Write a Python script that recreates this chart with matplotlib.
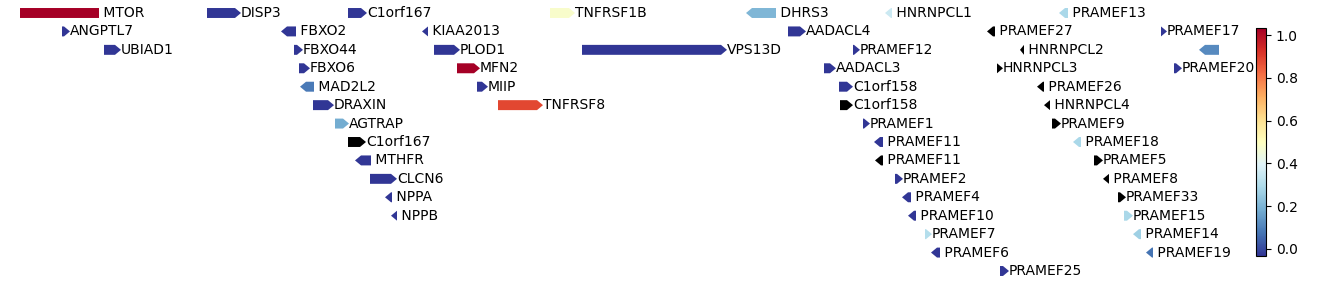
import numpy as np
import matplotlib
matplotlib.use("Agg")
import matplotlib.pyplot as plt
from matplotlib.patches import Polygon
from matplotlib.colors import Normalize

# genes: kb offset from region start, strand, track row, colour value (nan = no value)
names = ["MTOR", "DISP3", "C1orf167", "TNFRSF1B", "DHRS3", "HNRNPCL1", "PRAMEF13",
         "ANGPTL7", "FBXO2", "KIAA2013", "AADACL4", "PRAMEF27", "PRAMEF17",
         "UBIAD1", "FBXO44", "PLOD1", "VPS13D", "PRAMEF12", "HNRNPCL2", "",
         "FBXO6", "MFN2", "AADACL3", "HNRNPCL3", "PRAMEF20",
         "MAD2L2", "MIIP", "C1orf158", "PRAMEF26",
         "DRAXIN", "TNFRSF8", "C1orf158", "HNRNPCL4",
         "AGTRAP", "PRAMEF1", "PRAMEF9",
         "C1orf167", "PRAMEF11", "PRAMEF18",
         "MTHFR", "PRAMEF11", "PRAMEF5",
         "CLCN6", "PRAMEF2", "PRAMEF8",
         "NPPA", "PRAMEF4", "PRAMEF33",
         "NPPB", "PRAMEF10", "PRAMEF15",
         "PRAMEF7", "PRAMEF14",
         "PRAMEF6", "PRAMEF19",
         "PRAMEF25"]
starts = [-16, 374, 656, 1060, 1452, 1730, 2078,
          84, 522, 804, 1536, 1934, 2282,
          168, 548, 828, 1124, 1666, 2000, 2358,
          558, 874, 1608, 1954, 2308,
          560, 914, 1638, 2034,
          586, 956, 1640, 2048,
          630, 1686, 2064,
          656, 1708, 2106,
          670, 1710, 2148,
          700, 1750, 2166,
          730, 1764, 2196,
          742, 1776, 2208,
          1810, 2226,
          1822, 2252,
          1960]
ends = [158, 442, 694, 1110, 1512, 1744, 2096,
        100, 552, 816, 1572, 1950, 2294,
        202, 566, 880, 1414, 1680, 2008, 2398,
        580, 920, 1632, 1966, 2324,
        588, 936, 1666, 2048,
        628, 1046, 1666, 2060,
        658, 1700, 2082,
        692, 1726, 2122,
        702, 1726, 2166,
        754, 1766, 2178,
        744, 1782, 2212,
        754, 1792, 2226,
        1824, 2242,
        1840, 2266,
        1978]
strands = ["-", "+", "+", "+", "-", "-", "-",
           "+", "-", "-", "+", "-", "+",
           "+", "+", "+", "+", "+", "-", "-",
           "+", "+", "+", "+", "+",
           "-", "+", "+", "-",
           "+", "+", "+", "-",
           "+", "+", "+",
           "+", "-", "-",
           "-", "-", "+",
           "+", "+", "-",
           "-", "-", "+",
           "-", "-", "+",
           "+", "-",
           "-", "-",
           "+"]
rows = [0] * 7 + [1] * 6 + [2] * 7 + [3] * 5 + [4] * 4 + [5] * 4 + [6] * 3 + [7] * 3 \
    + [8] * 3 + [9] * 3 + [10] * 3 + [11] * 3 + [12] * 2 + [13] * 2 + [14]
nan = np.nan
values = [1.0, 0.0, 0.0, 0.48, 0.22, 0.36, 0.3,
          0.0, 0.0, 0.0, 0.0, nan, 0.0,
          0.0, 0.0, 0.0, 0.0, 0.0, nan, 0.14,
          0.0, 1.0, 0.0, nan, 0.0,
          0.11, 0.0, 0.0, nan,
          0.0, 0.86, nan, nan,
          0.2, 0.0, nan,
          nan, 0.0, 0.3,
          0.0, nan, nan,
          0.0, 0.0, nan,
          0.0, 0.0, nan,
          0.0, 0.0, 0.3,
          0.32, 0.28,
          0.0, 0.1,
          0.0]

cmap = plt.get_cmap("RdYlBu_r").with_extremes(bad="black")
norm = Normalize(vmin=0, vmax=1)

fig = plt.figure(figsize=(13.38, 2.85), dpi=100)
ax = fig.add_axes([20 / 1338, 0, 1199 / 1338, 1])
ax.set_xlim(0, 2398)
ax.set_ylim(14.76, -0.705)
ax.axis("off")

h = 0.27   # half height of arrow
hl = 12    # head length (kb)
for name, s, e, st, r, v in zip(names, starts, ends, strands, rows, values):
    L = e - s
    k = min(hl, L)
    if st == "+":
        pts = [(s, r - h), (e - k, r - h), (e, r), (e - k, r + h), (s, r + h)]
        label = name
    else:
        pts = [(e, r - h), (s + k, r - h), (s, r), (s + k, r + h), (e, r + h)]
        label = " " + name
    ax.add_patch(Polygon(pts, closed=True, facecolor=cmap(norm(v)), edgecolor="none"))
    if name:
        ax.text(e, r, label, ha="left", va="center", fontsize=10, clip_on=False)

cax = fig.add_axes([1256 / 1338, 29 / 285, 10 / 1338, 228 / 285])
sm = plt.cm.ScalarMappable(norm=Normalize(vmin=-0.033, vmax=1.033), cmap=cmap)
cb = fig.colorbar(sm, cax=cax)
cb.set_ticks([0.0, 0.2, 0.4, 0.6, 0.8, 1.0])

fig.savefig("out.png", dpi=100)
